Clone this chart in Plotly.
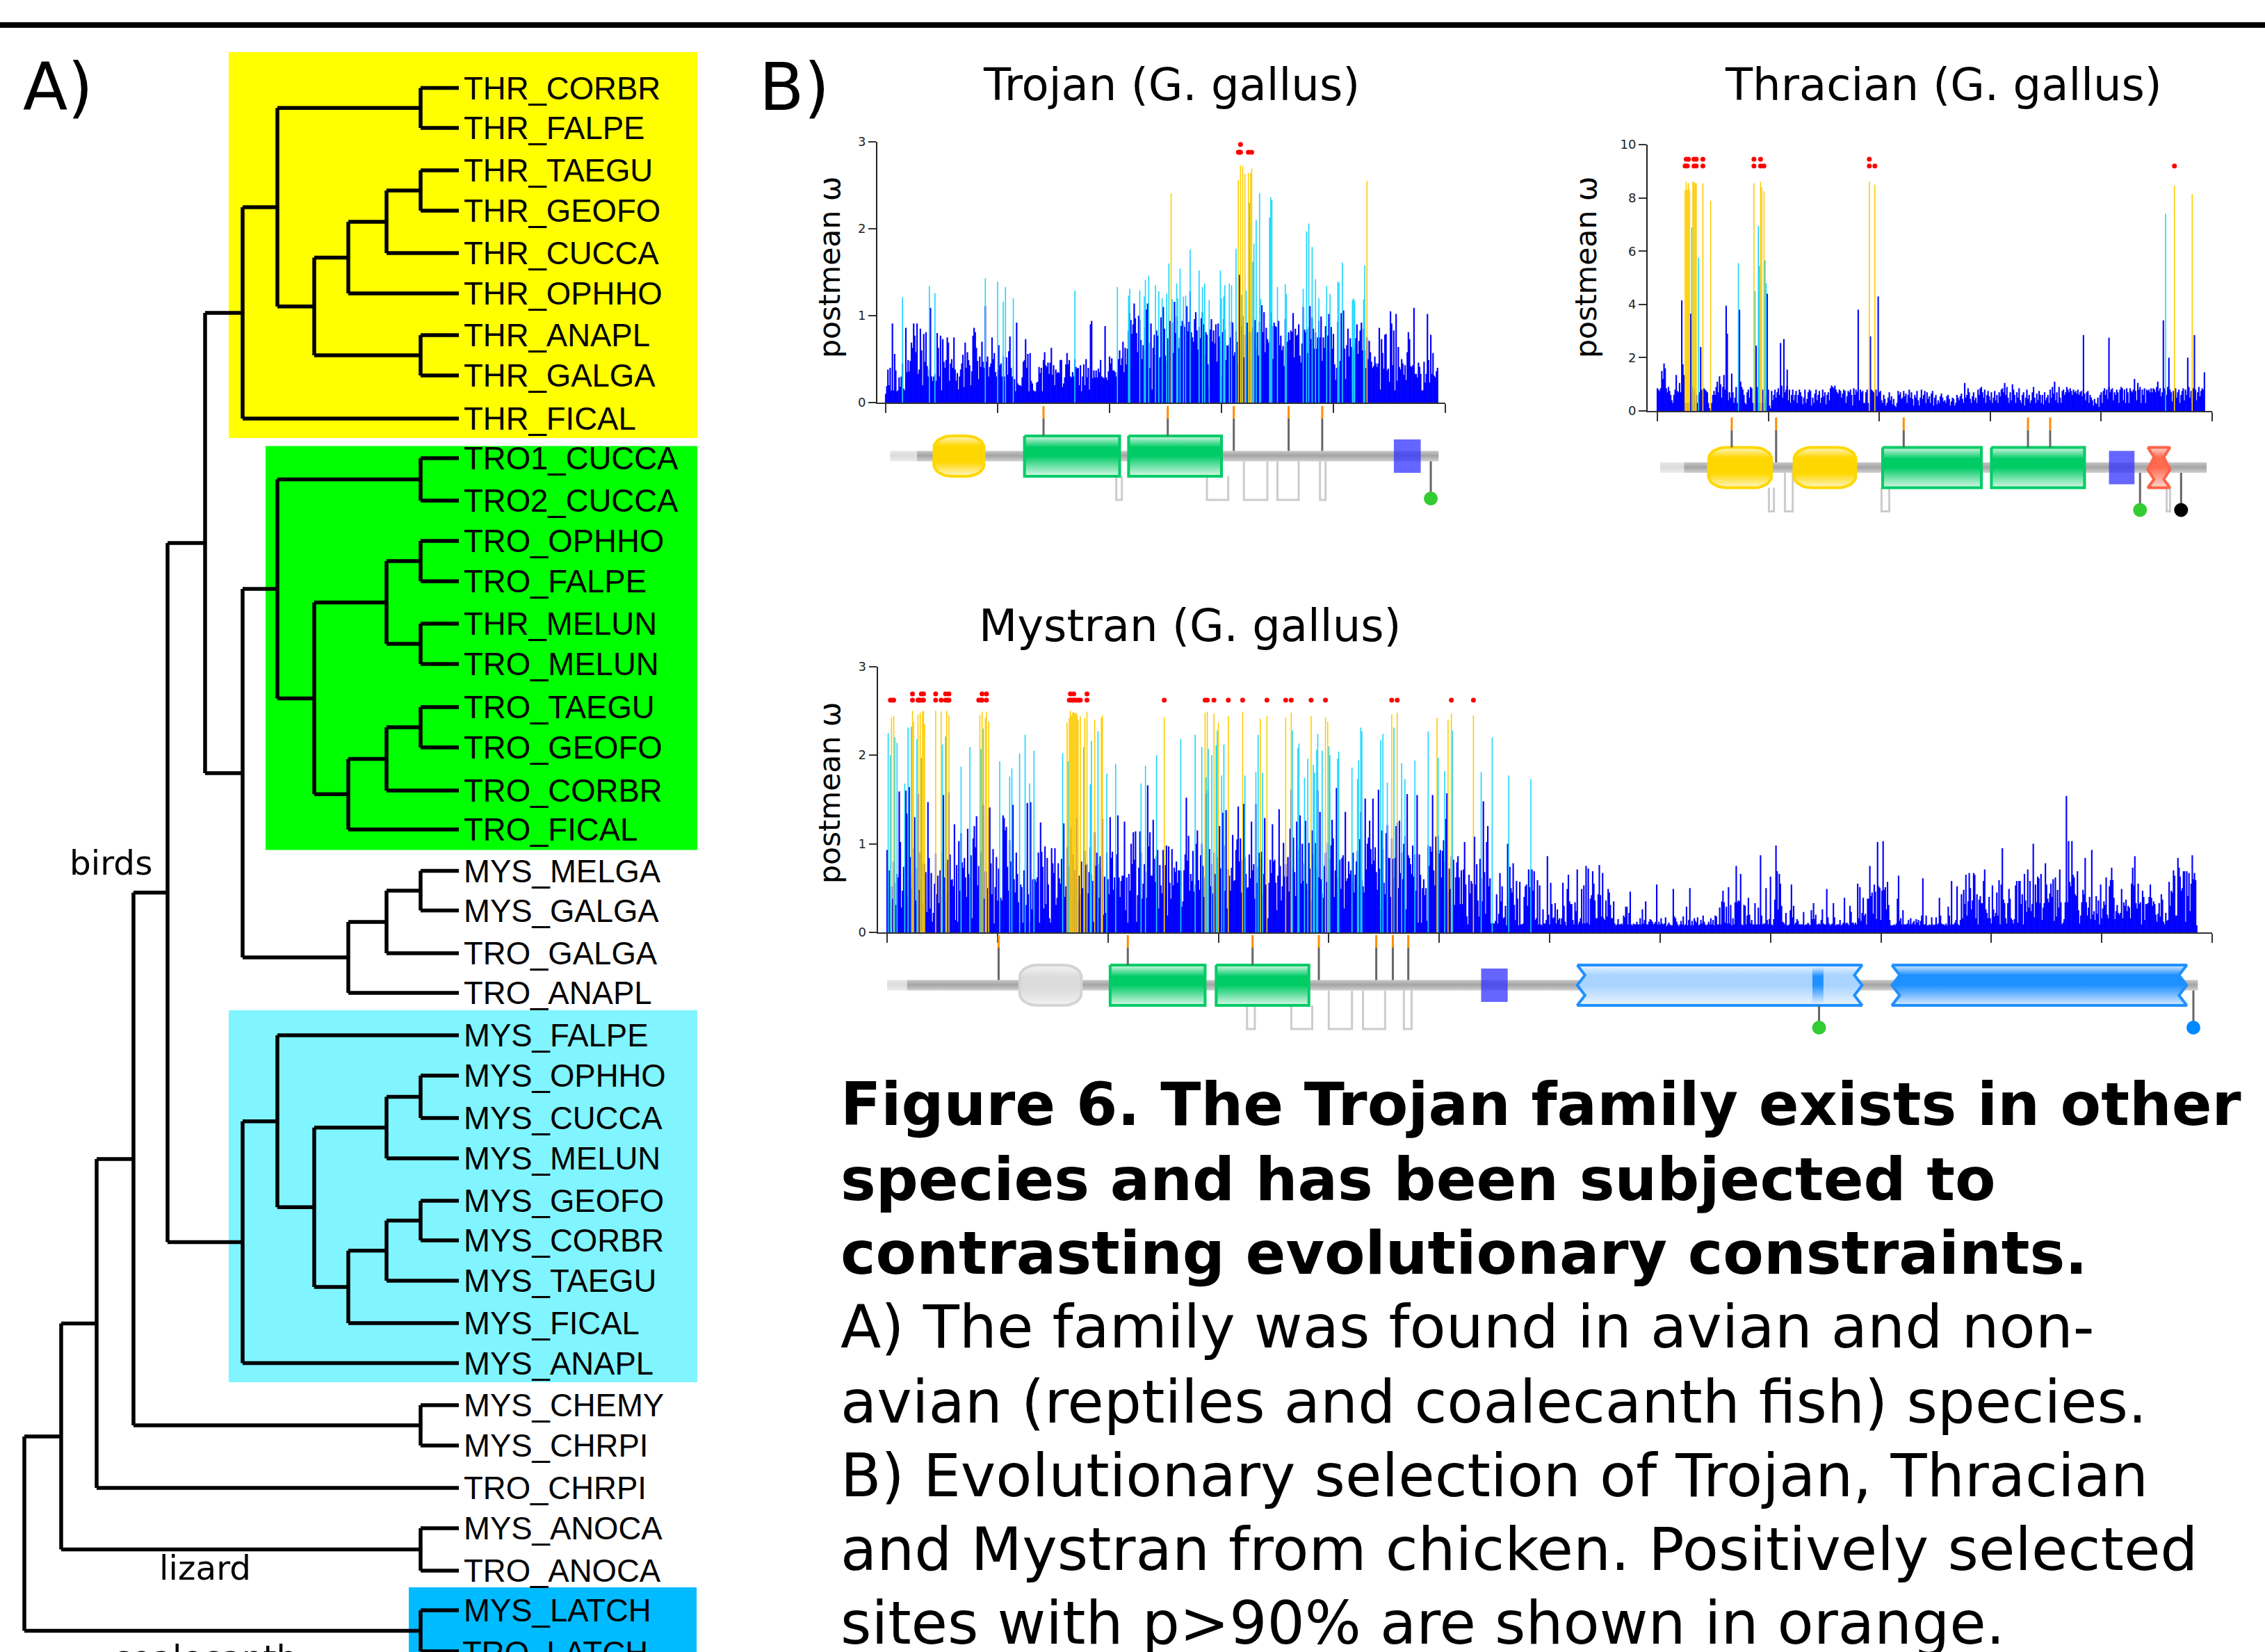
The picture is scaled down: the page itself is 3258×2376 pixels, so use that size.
import numpy as np
import plotly.graph_objects as go

# ---------- tree data ----------
LEAF_NAMES = ["THR_CORBR","THR_FALPE","THR_TAEGU","THR_GEOFO","THR_CUCCA","THR_OPHHO","THR_ANAPL","THR_GALGA","THR_FICAL",
 "TRO1_CUCCA","TRO2_CUCCA","TRO_OPHHO","TRO_FALPE","THR_MELUN","TRO_MELUN","TRO_TAEGU","TRO_GEOFO","TRO_CORBR","TRO_FICAL",
 "MYS_MELGA","MYS_GALGA","TRO_GALGA","TRO_ANAPL","MYS_FALPE","MYS_OPHHO","MYS_CUCCA","MYS_MELUN","MYS_GEOFO","MYS_CORBR",
 "MYS_TAEGU","MYS_FICAL","MYS_ANAPL","MYS_CHEMY","MYS_CHRPI","TRO_CHRPI","MYS_ANOCA","TRO_ANOCA","MYS_LATCH","TRO_LATCH"]
LEAF_Y = [126.5,184,245,303,364,422,482,540,602,659,720,778,836,897,955,1017,1075,1137,1193,1252.5,1309.5,1371,1428,1489,1547,
 1608,1666,1727,1784,1842,1903,1960.5,2021,2079,2140,2198,2259,2316,2375]
DEPTH_X = [35,88,139,192,241,295,349,399,452,501,556,605,660]
L = None
yellow = (6,[(7,[(11,[L,L]),(8,[(9,[(10,[(11,[L,L]),L]),L]),(11,[L,L])])]),L])
green = (7,[(11,[L,L]),(8,[(10,[(11,[L,L]),(11,[L,L])]),(9,[(10,[(11,[L,L]),L]),L])])])
mys_w = (9,[(10,[(11,[L,L]),L]),L])
cyan = (6,[(7,[L,(8,[(10,[(11,[L,L]),L]),(9,[(10,[(11,[L,L]),L]),L])])]),L])
TREE = (0,[(1,[(2,[(3,[(4,[(5,[yellow,(6,[green,mys_w])]),cyan]),(11,[L,L])]),L]),(11,[L,L])]),(11,[L,L])])

# ---------- Trojan ----------
TROJAN = [.1,.19,.38,.2,.4,.14,.91,.14,.56,.37,.13,.14,.29,.18,.3,.45,.16,.14,.86,.35,.49,.36,.48,.69,.63,.91,.77,.58,.91,.33,.38,.85,.6,.2,.79,.47,.81,.42,.3,.38,1.09,.3,.25,.3,.33,.25,.8,.63,.3,.77,.14,.73,.47,.4,.49,.75,.69,.25,.45,.5,.4,.75,.38,.25,.34,.15,.3,.38,.45,.55,.18,.69,.4,.58,.49,.43,.2,.36,.77,.86,.81,.63,.48,.27,.53,.41,.7,.47,.4,1.11,.47,.53,.3,.41,.45,.75,.5,.57,.35,.3,.37,.66,.43,.45,.3,.53,.3,.23,.52,.32,.59,.76,.4,.3,.2,.27,.13,.92,.22,.2,.2,.19,.29,.47,.49,.73,.4,.56,.13,.57,.25,.22,.14,.13,.13,.23,.24,.41,.34,.4,.13,.49,.58,.43,.41,.46,.33,.46,.63,.32,.43,.2,.38,.34,.35,.34,.49,.49,.18,.22,.29,.44,.57,.44,.49,.3,.29,.35,.3,.5,.41,.39,.4,.2,.43,.13,.3,.44,.2,.5,.29,.4,.15,.9,.94,.28,.37,.29,.37,.29,.39,.35,.49,.3,.29,.28,.88,.29,.26,.36,.53,.45,.51,.37,.37,.35,.3,.35,.5,.6,.43,.51,.7,.35,.63,.44,.62,.83,1.03,.95,.79,.9,1.14,.97,.8,.58,1.0,.95,.72,.5,.66,.6,.86,1.07,1.14,.69,.4,.91,.15,.63,.78,.55,.83,.77,.51,.52,.98,.66,1.1,.85,.54,.48,.74,.66,.94,.45,
 .92,.57,1.16,.8,.99,.74,.63,.75,.88,.94,.9,.87,.52,1.11,.82,.93,1.28,.81,.75,.7,.96,1.04,.83,.61,.87,.74,.97,1.04,.9,.56,.81,.78,.44,.18,.84,.96,.7,.83,.68,.9,.47,.91,.76,.6,.31,.81,.96,.84,.49,.66,.65,.67,.75,.93,.92,.54,.58,.82,.7,.45,1.47,.64,.88,1.0,.52,.78,.69,.92,.58,.81,.81,.47,.87,.81,.95,.62,.81,.54,.93,.7,1.12,.81,1.04,.58,.86,.73,.69,.71,1.04,.88,.5,.92,.88,.87,.83,.94,.66,.77,.6,.65,.42,.96,.69,.7,.81,.72,.83,.81,1.03,.52,.85,.77,.78,.9,.54,.46,.68,1.1,.84,.81,.84,.57,.87,1.11,.73,.98,.85,.62,.81,.62,.75,.94,.75,.99,.48,.75,.63,.88,.59,.77,1.02,.59,.87,.62,.79,.44,.26,.4,.93,.41,.48,1.03,.63,1.06,.62,.27,.66,.85,.53,.74,.64,.17,.61,.68,.74,.9,.56,.71,.83,.92,.6,.85,.6,.4,.75,.5,
 .71,.58,.47,.4,.42,.53,.45,.41,.45,.86,.15,.73,.57,.39,.78,.79,.37,.39,.24,1.05,.91,.43,.83,.14,1.02,.25,.64,.41,.38,.5,.45,.32,.43,.26,.58,.81,.73,.42,.41,.43,1.09,.33,.33,.29,.46,.41,.33,.14,.14,.47,.23,.33,1.02,.49,.23,.78,.33,.57,.31,.29,.36,.4]
TROJAN_CY_S = [15,39,44,89,100,105,107,114,169,207,217,218,227,231,232,235,241,244,247,251,253,256,260,261,263,266,268,272,280,283,285,289,299,300,302,303,307,309,313,318,322,325,328,329,331,334,335,343,344,345,350,357,358,373,376,378,381,384,387,394,397,404,405,408,417,418,419,427,428]
TROJAN_CY_V = [1.21,1.34,1.26,1.43,1.39,1.16,1.33,1.2,1.29,1.33,1.23,1.31,1.29,1.22,1.41,1.46,1.35,1.28,1.2,1.25,1.6,1.19,1.37,1.2,1.54,1.22,1.23,1.76,1.52,1.33,1.37,1.18,1.52,1.2,1.22,1.35,1.37,1.35,1.77,1.24,1.29,2.3,1.62,1.83,2.1,2.41,1.19,2.13,2.36,2.33,1.33,1.36,1.25,1.31,1.97,2.06,1.79,1.42,1.2,1.34,1.25,1.39,1.38,1.61,1.18,1.2,1.17,1.19,1.58]
TROJAN_OR_S = [255,315,317,319,321,324,326,327,430]
TROJAN_OR_V = [2.41,2.56,2.73,2.72,2.63,2.64,2.64,2.69,2.55]
TROJAN_DOT_S = [315,316,317,324,327,317]
TROJAN_DOT_V = [2.88,2.88,2.88,2.88,2.88,2.97]

# ---------- Thracian ----------
THRACIAN = [.85,.8,.75,.85,1.5,1.2,1.78,1.6,.85,.7,.9,.75,.6,.4,.3,.6,.8,1.35,.75,.7,1.05,.7,.7,.7,1.35,.3,.3,.3,.3,.3,.7,.3,.9,.8,.7,.6,.3,.6,.7,.8,.8,.3,.85,.8,.75,.7,.3,.1,.1,.3,.6,.75,.6,.9,1.1,.7,1.3,1.0,.5,.9,1.35,.8,.9,.7,.4,.7,.5,1.4,.7,.3,.5,.9,.3,.3,.6,1.1,.9,.8,.6,.3,.25,.7,.8,.5,.9,.85,.3,.3,.3,.6,.9,.3,.3,.3,.3,.8,.3,.3,.5,.6,.8,.2,.1,.75,.4,.6,.8,.5,.7,.85,.6,.7,.95,.5,.9,.7,.8,.95,.4,.8,.3,.6,.8,.4,.6,.75,.3,.6,.8,.7,.55,.25,.5,.8,.3,.45,.7,.8,.75,.2,.5,.3,.65,.8,.4,.6,.75,.3,.5,.8,.55,.7,.25,.6,.7,.4,.85,.95,.9,.85,.95,.8,.7,.65,.8,.75,.5,.65,.8,.75,.3,.55,.75,.7,.8,.6,.2,.85,.6,.8,.7,.75,.4,.8,.7,.75,.3,.3,.7,.8,.3,.3,.3,.8,.75,.7,.6,.8,.55,.4,.7,.75,.4,.3,.6,.45,.2,.3,.5,.7,.4,.55,.25,.45,.2,.15,.3,.75,.6,.7,.45,.5,.75,.55,.65,.3,.6,.8,.5,.7,.45,.2,.6,.5,.75,.4,.2,.5,.8,.45,.6,.75,.3,.7,.45,.55,.3,.65,.75,.2,.5,.6,.25,.4,.3,.55,.65,.5,.35,.4,.3,.55,.6,.45,.2,.35,.5,.45,.2,.3,.6,.5,.4,.55,.65,.45,.3,1.05,.5,.6,.85,.7,.45,.3,.55,.7,.4,.5,.3,.8,.6,.85,.9,.7,.5,.8,.3,.6,.75,.55,.4,.7,.3,.5,.75,.4,.6,.3,.7,.55,.8,.85,.7,1.05,.6,.9,.5,.3,.7,.4,1.0,.8,.6,.3,.7,.5,.85,.4,.3,.6,.7,.2,.5,.8,.45,.6,.3,.4,.7,.9,.5,.3,.65,.4,.75,.6,.3,.6,.25,.7,.4,.5,.6,.3,.8,.5,.9,.65,1.1,.4,.7,.3,.9,.5,.3,.75,.8,.6,.7,.9,.8,.7,.85,.75,.6,.8,.7,.75,.65,.8,.6,.7,.75,.55,.8,.65,.4,.7,.75,.3,.6,.5,.4,.2,.45,.3,.25,.5,.15,.6,.7,.3,.75,.85,.6,.8,.45,.9,.7,.8,.85,.4,.7,.6,.8,.7,.3,.8,.9,.85,.4,.8,.3,.85,.7,.3,.85,.75,.7,.8,1.2,.75,.4,1.05,.8,.9,.3,.8,.6,.85,.3,.8,.75,.8,.7,.85,.7,.85,.8,.7,.9,1.1,.75,.85,
 .55,.7,.3,.85,.75,.6,.9,.45,.8,.7,.35,.75,.6,.85,.5,.7,.8,.3,.6,.75,.85,.4,.8,.6,.7,.9,.5,.75,.3,.85,.65,.8,.4,.7,.9,.55,.75,.85,.8]
THRACIAN_PK_S = [22,23,30,39,62,63,74,89,99,111,114,117,181,192,199,384,407,456,461,478,484,493]
THRACIAN_PK_V = [4.15,1.75,3.65,2.4,3.95,2.9,3.8,2.45,4.4,2.55,2.7,1.55,3.8,2.8,4.3,2.85,2.75,3.4,2.0,2.0,2.85,1.45]
THRACIAN_CY_S = [31,37,73,88,91,92,97,98,458]
THRACIAN_CY_V = [6.9,5.75,5.55,4.5,6.95,5.45,5.65,4.8,7.4]
THRACIAN_OR_S = [25,26,27,28,29,32,33,34,35,41,48,87,93,94,96,191,196,466,482]
THRACIAN_OR_V = [8.3,8.6,8.3,8.55,8.3,8.6,8.6,8.55,8.55,8.55,7.9,8.55,8.6,8.4,8.25,8.6,8.5,8.45,8.15]
THRACIAN_DOT_S = [25,27,33,35,41,87,93,96,191,196,466,26,28,33,35,41,87,93,191]
THRACIAN_DOT_V = [9.2,9.2,9.2,9.2,9.2,9.2,9.2,9.2,9.2,9.2,9.2,9.45,9.45,9.45,9.45,9.45,9.45,9.45,9.45]

# ---------- Mystran ----------
MYSTRAN = [.93,.45,.7,.31,.52,.38,.8,.56,.31,.66,.62,1.59,1.02,.28,.47,.74,.43,1.6,1.34,.41,1.64,.85,.5,.66,.95,1.3,.36,.72,1.56,.48,.9,.57,.34,.78,.77,.68,.23,1.47,.84,.27,.67,.12,.22,.55,.89,.43,.64,.33,.7,.4,.91,1.55,.62,.35,.44,.82,1.58,.88,.59,.6,.52,1.22,.14,.76,.12,1.03,.47,1.12,.79,.73,.84,.62,.4,1.17,.66,.62,.87,.16,1.06,1.2,.96,1.31,.53,.75,.42,.9,.58,1.44,.38,.69,.68,.5,1.4,1.41,.78,.43,.94,.1,.51,.85,.36,.72,.35,.39,.36,1.32,1.29,1.15,1.19,.74,.47,1.04,.8,.58,1.44,.6,.45,.9,.66,.34,.1,.54,.51,.11,.7,.12,.31,1.46,.43,.12,1.47,.26,.6,.19,.6,.57,.62,.9,.11,1.24,.91,.74,.27,.97,.32,.84,.54,.16,.11,.95,.78,.67,.95,.31,.39,.78,.61,.55,.83,.82,1.23,.4,.52,.96,.45,.74,1.18,.62,.88,.41,.7,.55,1.29,.36,.64,.43,.8,.5,.11,.92,.76,.77,.44,.68,.96,.65,.58,.12,1.13,.75,.9,.77,.39,.86,.72,1.28,.2,.63,.22,.9,.6,.43,1.3,.84,.91,.48,.62,.52,.88,1.32,.62,.4,.58,.64,.64,1.25,.25,.62,.11,.66,.47,1.0,.77,1.13,.82,1.14,.12,.42,.73,1.14,.9,.38,.55,.77,.68,.39,1.66,.97,1.13,.64,.64,1.27,.83,.57,.86,.93,.27,.76,.53,.44,.93,.39,.76,.98,.19,.97,.56,.38,.94,.53,.73,.68,.8,.56,.7,.7,.69,.29,.35,.7,.88,1.52,.81,1.09,.47,.66,.58,.92,.46,.54,1.0,1.15,.59,.48,.87,1.0,.75,.4,.62,1.57,1.61,.85,.94,.52,.77,.44,.9,.66,.39,.85,.58,1.2,.72,.73,1.35,.98,.47,1.38,.27,
 .71,.64,.47,.73,1.1,.58,.59,.93,1.05,1.42,.8,1.06,.45,.82,1.45,.85,.66,.5,.51,.88,.61,1.25,.7,.77,.38,1.45,.56,.74,.9,.84,.91,.42,.66,1.29,.54,.15,.16,.56,.82,.67,1.22,.8,.82,.56,.25,.64,1.39,.75,.36,.52,1.01,.63,.77,.63,.85,.46,1.17,1.61,.72,1.07,.68,.41,1.25,.93,.6,1.32,.55,1.0,.58,.78,1.26,.55,.48,1.01,.72,.36,1.15,.88,.5,1.01,.7,1.6,.62,1.36,.6,.44,.39,.75,.9,.57,1.01,.62,.83,.98,1.27,1.06,.4,.7,1.63,.61,.79,.82,.49,.84,.87,.27,1.36,.58,.61,.8,.66,.7,.57,.9,.45,.65,.8,.92,.52,1.05,1.36,.59,.52,.45,1.51,.71,1.0,1.07,1.26,.94,.77,1.51,.81,.96,.68,.48,1.61,.72,.25,1.15,.94,.56,.43,1.12,1.21,.84,.84,.4,1.06,.83,.62,.84,1.2,1.24,.5,1.26,.67,.9,.6,1.0,1.09,.26,1.56,.87,.84,.77,.66,.98,.63,.88,.47,1.55,.11,.88,.65,.11,.5,.6,.42,.5,.13,.98,.75,.97,.91,1.55,.7,.53,1.08,.92,1.09,.89,.93,.62,.92,1.04,.8,1.28,1.57,.46,.72,.49,.86,.32,.82,.31,.62,.79,.86,.62,.32,.7,.32,.71,1.02,.54,.18,.09,.65,.44,.58,.55,.27,1.08,.54,.77,.36,.18,.83,.61,.35,1.48,.68,.21,1.02,1.2,.52,.61,.1,.11,.1,.1,.13,.43,.1,.21,.67,.35,.52,.16,.17,.3,.08,1.0,.38,.74,.5,.45,.78,.31,.14,.58,.38,.08,.57,.09,.09,.1,.4,.52,.54,.3,.71,.51,.71,.71,.47,.69,.14,.16,.59,.09,.53,.09,.08,.26,.1,.1,.14,.86,.2,.09,.56,.32,.16,.17,.33,.1,.26,.14,.16,.09,.16,.56,.3,.12,.08,.49,
 .65,.35,.32,.32,.14,.09,.34,.24,.71,.09,.12,.16,.49,.1,.53,.1,.75,.11,.72,.09,.38,.42,.69,.55,.36,.16,.16,.43,.76,.42,.18,.67,.16,.14,.36,.18,.49,.45,.31,.16,.16,.35,.1,.08,.09,.15,.09,.09,.1,.09,.19,.17,.29,.29,.09,.22,.46,.09,.08,.1,.09,.09,.12,.09,.09,.16,.09,.26,.1,.14,.35,.09,.09,.12,.15,.14,.12,.09,.1,.12,.54,.09,.12,.09,.16,.1,.09,.1,.17,.07,.09,.11,.09,.08,.08,.49,.18,.16,.12,.09,.07,.09,.13,.09,.18,.08,.09,.29,.08,.14,.5,.08,.13,.08,.16,.13,.11,.17,.08,.09,.14,.1,.19,.12,.09,.08,.09,.12,.09,.16,.09,.14,.08,.19,.18,.09,.09,.28,.09,.35,.47,.34,.11,.29,.1,.51,.1,.31,.08,.16,.09,.34,.75,.34,.36,.35,.66,.09,.08,.31,.3,.09,.19,.39,.2,.1,.14,.09,.09,.33,.09,.09,.28,.09,.87,.19,.09,.1,.1,.5,.14,.09,.15,.63,.09,.08,.15,.37,.98,.69,.26,.66,.55,.3,.12,.11,.09,.22,.08,.08,.09,.25,.54,.17,.3,.09,.11,.15,.13,.09,.09,.09,.09,.23,.08,.09,.09,.11,.09,.08,.25,.15,.33,.15,.2,.09,.09,.1,.09,.14,.26,.1,.09,.09,.49,.17,.1,.08,.09,.1,.33,.17,.08,.09,.09,.09,.14,.08,.09,.11,.39,.1,.11,.1,.08,.3,.23,.11,.11,.09,.11,.09,.55,.16,.51,.13,.22,.39,.19,.21,.09,.38,.38,.75,.41,.45,.21,.54,.46,.15,1.02,.52,.5,.14,.47,1.03,.48,.51,.26,.57,.31,.14,.08,.08,.08,.09,.08,.1,.38,.64,.13,.16,.09,.25,.09,.09,.09,.1,.14,.09,.16,
 .09,.11,.13,.09,.15,.11,.14,.08,.13,.19,.61,.09,.09,.19,.08,.08,.09,.08,.17,.09,.08,.09,.17,.09,.1,.39,.19,.1,.09,.09,.08,.1,.08,.29,.19,.09,.58,.09,.09,.11,.14,.52,.09,.08,.14,.43,.16,.48,.32,.65,.19,.35,.67,.5,.26,.36,.67,.65,.16,.43,.09,.37,.41,.33,.33,.58,.71,.26,.22,.16,.4,.16,.1,.53,.26,.18,.22,.45,.19,.59,.09,.54,.95,.37,.33,.16,.1,.33,.49,.38,.16,.14,.1,.15,.53,.58,.11,.58,.58,.32,.43,.09,.66,.36,.23,.71,.28,.58,.24,.32,1.0,.17,.54,.34,.63,.61,.33,.66,.14,.28,.33,.78,.54,.38,.34,.44,.55,.4,.6,.13,.62,.18,.48,.28,.71,.34,.09,.11,.15,.34,1.54,.34,1.03,.57,.52,1.03,.65,.62,.43,.41,.69,.25,.1,.19,.34,.48,.43,.84,.34,.19,.28,.4,.15,.93,.2,.24,.14,.41,.21,.36,.09,.54,.16,.27,.35,.31,.62,.2,.16,.52,.59,.73,.59,.39,.15,.24,.31,.22,.2,.22,.49,.16,.34,.3,.37,.24,.3,.28,.16,.55,.73,.53,.86,.33,.27,.55,.32,.34,.09,.47,.4,.14,.32,.32,.33,.4,.54,.39,.3,.35,.32,.2,.12,.21,.33,.18,.43,.37,.12,.09,.22,.13,.14,.57,.3,.47,.45,.7,.64,.19,.19,.84,.73,.63,.47,.5,.69,.69,.12,.69,.41,.67,.24,.55,.87,.6,.67,.59,.08]
MYSTRAN_CY_S = [1,3,7,9,16,19,22,27,31,50,53,67,75,85,87,102,111,113,120,125,129,133,159,164,178,184,185,191,199,207,230,234,244,266,279,285,289,291,294,298,299,303,305,
 324,334,336,340,367,372,373,378,381,386,387,389,390,394,400,401,408,409,421,426,427,429,430,447,449,453,459,466,469,478,490,499,505,512,538,548,563,583]
MYSTRAN_CY_V = [2.25,2.0,2.2,2.14,1.68,2.31,2.32,2.18,1.97,2.12,2.21,1.87,2.09,2.07,2.3,1.93,1.76,1.85,2.02,2.23,1.68,2.05,2.02,1.93,2.09,1.67,2.16,2.27,1.79,1.9,1.68,1.88,2.0,2.18,2.23,2.09,1.75,2.07,2.0,2.11,2.28,1.77,2.12,
 1.77,1.81,2.23,1.8,2.28,2.08,2.13,1.74,1.96,1.89,1.8,2.06,2.24,2.05,2.1,2.0,1.96,2.04,1.86,1.73,1.94,2.31,2.27,2.17,2.24,1.69,2.31,1.91,1.73,1.94,2.27,1.97,1.82,2.28,1.81,2.2,1.77,1.73]
MYSTRAN_OR_S = [4,6,23,24,28,30,32,33,34,44,49,54,56,84,86,89,90,92,163,165,166,167,168,169,170,171,172,173,175,179,181,188,194,195,251,288,290,296,300,309,322,338,344,361,366,384,397,399,457,462,498,508,511,531]
MYSTRAN_OR_V = [2.42,2.44,2.5,2.38,2.46,2.48,2.49,2.5,2.35,2.5,2.49,2.5,2.45,2.45,2.49,2.42,2.49,2.38,2.37,2.42,2.5,2.45,2.48,2.49,2.47,2.48,2.46,2.4,2.44,2.42,2.49,2.4,2.42,2.45,2.43,2.48,2.49,2.47,2.37,2.44,2.49,2.41,2.44,2.42,2.48,2.44,2.43,2.38,2.46,2.48,2.42,2.4,2.47,2.45]
MYSTRAN_DOT_S = [3,5,6,23,28,29,30,32,33,44,49,53,55,56,83,85,86,90,165,167,168,170,172,174,175,181,251,288,290,296,309,322,344,361,366,384,397,457,462,511,531, 23,31,33,44,53,56,86,90,166,169,181]
MYSTRAN_DOT_V = [2.62]*41 + [2.69]*11

# ---------- protein diagrams (residue numbers) ----------
TRO_END = (4,28,494); TRO_ROUND = [(43,88,"y")]; TRO_GREEN = [(124,209),(217,300)]; TRO_BLUE = [(454,478)]
TRO_STICKS = [141,252,311,360,390]; TRO_EXONS = [(206,211),(287,306),(320,341),(350,369),(388,393)]; TRO_LOLLI = [(487,"#33cc33")]
THR_END = (2.5,24,495); THR_ROUND = [(46,103,"y"),(123,179,"y")]; THR_GREEN = [(203,292),(301,385)]; THR_BLUE = [(407,430)]
THR_STICKS = [67,107,222,334,354]; THR_EXONS = [(100.5,105),(115,122),(202,209),(459,462)]; THR_LOLLI = [(435,"#33cc33"),(472,"#000000")]
THR_HOUR = (442,462)
MYS_END = (0,18,1187); MYS_ROUND = [(120,176,"g")]; MYS_GREEN = [(202,288),(298,382)]; MYS_BLUE = [(538,562)]
MYS_STICKS = [101,218,331,391,443,458,472]; MYS_EXONS = [(326,333),(366,385),(400,421),(431,451),(468,475)]; MYS_LOLLI = [(844,"#33cc33"),(1183,"#0088ff")]
MYS_TORN_L = (625,883); MYS_TORN_D = (910,1177); MYS_STRIPE = (838,848)

TITLES = ["Trojan (G. gallus)","Thracian (G. gallus)","Mystran (G. gallus)"]
CAPTION_BOLD = ["Figure 6. The Trojan family exists in other","species and has been subjected to","contrasting evolutionary constraints."]
CAPTION = ["A) The family was found in avian and non-","avian (reptiles and coalecanth fish) species.","B) Evolutionary selection of Trojan, Thracian","and Mystran from chicken. Positively selected","sites with p>90% are shown in orange."]

W, H = 3258, 2376
fig = go.Figure()
FONT = "DejaVu Sans"

def xd(a, b): return [a / W, b / W]
def yd(top, bot): return [(H - bot) / H, (H - top) / H]

layout = dict(width=W, height=H, autosize=False, margin=dict(l=0, r=0, t=0, b=0, pad=0, autoexpand=False), plot_bgcolor="rgba(0,0,0,0)", paper_bgcolor="white",
    showlegend=False, barmode="overlay", hovermode=False,
    xaxis=dict(domain=[0, 1], range=[0, W], visible=False, fixedrange=True),
    yaxis=dict(domain=[0, 1], range=[H, 0], visible=False, fixedrange=True))

CHARTS = [
 dict(n=2, track=5, dom=(1262, 2079), x0=1274, pps=1.61, xmax=500, top=204, bot=579, ymax=3, yt=[0,1,2,3], ticks=range(0,501,100), center=656,
      v=TROJAN, ps=[], pv=[], cs=TROJAN_CY_S, cv=TROJAN_CY_V, os=TROJAN_OR_S, ov=TROJAN_OR_V, ds=TROJAN_DOT_S, dv=TROJAN_DOT_V),
 dict(n=3, track=6, dom=(2370, 3182), x0=2384, pps=1.596, xmax=500, top=208, bot=591, ymax=10, yt=[0,2,4,6,8,10], ticks=range(0,501,100), center=672.5,
      v=THRACIAN, ps=THRACIAN_PK_S, pv=THRACIAN_PK_V, cs=THRACIAN_CY_S, cv=THRACIAN_CY_V, os=THRACIAN_OR_S, ov=THRACIAN_OR_V, ds=THRACIAN_DOT_S, dv=THRACIAN_DOT_V),
 dict(n=4, track=7, dom=(1262.5, 3182), x0=1276, pps=1.588, xmax=1200, top=958.6, bot=1341, ymax=3, yt=[0,1,2,3], ticks=range(0,1201,100), center=1417,
      v=MYSTRAN, ps=[], pv=[], cs=MYSTRAN_CY_S, cv=MYSTRAN_CY_V, os=MYSTRAN_OR_S, ov=MYSTRAN_OR_V, ds=MYSTRAN_DOT_S, dv=MYSTRAN_DOT_V),
]
BLUE, CYAN, ORANGE = "rgba(0,0,255,.999)", "rgba(25,213,255,.999)", "rgba(255,204,0,.999)"
for c in CHARTS:
    n = c["n"]
    layout[f"xaxis{n}"] = dict(domain=xd(*c["dom"]), range=[-(c["x0"] - c["dom"][0]) / c["pps"], c["xmax"]], anchor=f"y{n}",
        showline=True, linecolor="#333", linewidth=2, ticks="outside", ticklen=13, tickwidth=2, tickcolor="#333",
        tickvals=list(c["ticks"]), showticklabels=False, showgrid=False, zeroline=False, fixedrange=True)
    layout[f"yaxis{n}"] = dict(domain=yd(c["top"], c["bot"]), range=[0, c["ymax"]], anchor=f"x{n}",
        showline=True, linecolor="#222", linewidth=2, ticks="outside", ticklen=11, tickwidth=2, tickcolor="#333",
        tickvals=c["yt"], tickfont=dict(family=FONT, size=18, color="#222"), showgrid=False, zeroline=False, fixedrange=True)
    layout[f"yaxis{c['track']}"] = dict(domain=yd(c["center"] - 78, c["center"] + 78), range=[78, -78], anchor=f"x{n}", visible=False, fixedrange=True)
    ax = dict(xaxis=f"x{n}", yaxis=f"y{n}")
    fig.add_bar(x=list(range(len(c["v"]))), y=c["v"], width=1.35, marker=dict(color=BLUE, line_width=0), **ax)
    if c["ps"]:
        fig.add_bar(x=c["ps"], y=c["pv"], width=1.3, marker=dict(color=BLUE, line_width=0), **ax)
    fig.add_bar(x=c["cs"], y=c["cv"], width=1, marker=dict(color=CYAN, line_width=0), **ax)
    fig.add_bar(x=c["os"], y=c["ov"], width=1, marker=dict(color=ORANGE, line_width=0), **ax)
    fig.add_scatter(x=c["ds"], y=c["dv"], mode="markers", marker=dict(color="#ff0000", size=7, line_width=0), cliponaxis=False, **ax)

GRADS = {
 "green": ["#00cc66", [[0,"#d8f7e6"],[.5,"#00cc66"],[.72,"#00cc66"],[1,"#d8f7e6"]]],
 "y": ["#ffd700", [[0,"#fff6c8"],[.35,"#ffd700"],[.75,"#ffd700"],[1,"#fff6c8"]]],
 "g": ["#d4d4d4", [[0,"#f2f2f2"],[.4,"#dcdcdc"],[.7,"#dcdcdc"],[1,"#f2f2f2"]]],
 "lb": ["#2090ff", [[0,"#eaf4ff"],[.5,"#a8d4ff"],[.75,"#a8d4ff"],[1,"#eaf4ff"]]],
 "db": ["#2090ff", [[0,"#d8eaff"],[.5,"#1e90ff"],[.75,"#1e90ff"],[1,"#d8eaff"]]],
 "r": ["#ff6347", [[0,"#ffd8d0"],[.5,"#ff6a50"],[.75,"#ff6a50"],[1,"#ffd8d0"]]],
 "bb": ["rgba(0,0,0,0)", [[0,"#d0d0d0"],[.55,"#a4a4a4"],[1,"#c8c8c8"]]],
 "bl": ["rgba(0,0,0,0)", [[0,"#ececec"],[.55,"#dcdcdc"],[1,"#e8e8e8"]]],
}
def poly(xs, ys, key, ax, w=4):
    col, cs = GRADS[key]
    fig.add_scatter(x=xs, y=ys, mode="lines", fill="toself", line=dict(color=col, width=w),
                    fillgradient=dict(type="vertical", colorscale=cs), **ax)
def rect(a, b, h): return [a, b, b, a, a], [-h, -h, h, h, -h]
def rounded(a, b, h, rx, ry=17):
    t = np.linspace(0, np.pi / 2, 10)
    xs = list(b - rx + rx * np.sin(t)) + list(b - rx + rx * np.cos(t)) + list(a + rx - rx * np.sin(t)) + list(a + rx - rx * np.cos(t))
    ys = list(-h + ry - ry * np.cos(t)) + list(h - ry + ry * np.sin(t)) + list(h - ry + ry * np.cos(t)) + list(-h + ry - ry * np.sin(t))
    return xs + xs[:1], ys + ys[:1]
def torn(a, b, h, d):
    xs = [a, b, b - d, b, b - d, b, a, a + d, a, a + d, a]
    ys = [-h, -h, -h / 2, 0, h / 2, h, h, h / 2, 0, -h / 2, -h]
    return xs, ys

DIAGRAMS = [
 dict(c=CHARTS[0], end=TRO_END, rnd=TRO_ROUND, grn=TRO_GREEN, blu=TRO_BLUE, st=TRO_STICKS, ex=TRO_EXONS, lo=TRO_LOLLI),
 dict(c=CHARTS[1], end=THR_END, rnd=THR_ROUND, grn=THR_GREEN, blu=THR_BLUE, st=THR_STICKS, ex=THR_EXONS, lo=THR_LOLLI, hour=THR_HOUR),
 dict(c=CHARTS[2], end=MYS_END, rnd=MYS_ROUND, grn=MYS_GREEN, blu=MYS_BLUE, st=MYS_STICKS, ex=MYS_EXONS, lo=MYS_LOLLI, tl=MYS_TORN_L, td=MYS_TORN_D, stripe=MYS_STRIPE),
]
BOX, BACK = 29, 7.5
for d in DIAGRAMS:
    c = d["c"]
    ax = dict(xaxis=f"x{c['n']}", yaxis=f"y{c['track']}")
    e0, e1, e2 = d["end"]
    poly(*rect(e0, e1, BACK), "bl", ax, 0)
    poly(*rect(e1, e2, BACK), "bb", ax, 0)
    boxes = [(a, b) for a, b, _ in d["rnd"]] + list(d["grn"]) + ([d["tl"], d["td"]] if "tl" in d else []) + ([d["hour"]] if "hour" in d else [])
    inbox = lambda a, b: any(a < q and b > p for p, q in boxes)
    for a, b in d["ex"]:
        top = BOX if inbox(a, b) else BACK
        fig.add_scatter(x=[a, a, b, b], y=[top, 63, 63, top], mode="lines", line=dict(color="#cccccc", width=3), **ax)
    for a, b, k in d["rnd"]:
        poly(*rounded(a, b, BOX, 16), k, ax)
    for a, b in d["grn"]:
        poly(*rect(a, b, BOX), "green", ax)
    if "tl" in d:
        poly(*torn(*d["tl"], BOX, 7), "lb", ax)
        poly(*torn(*d["td"], BOX, 7), "db", ax)
        poly(*rect(*d["stripe"], BOX - 3), "db", ax, 0)
    if "hour" in d:
        a, b = d["hour"]; m = (b - a) * .28
        xs = [a, b, b - m, b, b - m, b, a, a + m, a, a + m, a]
        poly(xs, [-BOX, -BOX, -15, 3, 17, BOX, BOX, 17, 3, -15, -BOX], "r", ax)
    for a, b in d["blu"]:
        fig.add_scatter(x=rect(a, b, 24)[0], y=rect(a, b, 24)[1], mode="lines", fill="toself", fillcolor="rgba(50,50,255,.75)", line=dict(width=0), **ax)
    gx, gy, ox, oy = [], [], [], []
    for s in d["st"]:
        gx += [s, s, None]; gy += [-54, -BOX if inbox(s, s) else -BACK, None]
        ox += [s, s, None]; oy += [-72, -54, None]
    fig.add_scatter(x=gx, y=gy, mode="lines", line=dict(color="#666666", width=3), **ax)
    fig.add_scatter(x=ox, y=oy, mode="lines", line=dict(color="#ff8c00", width=3), **ax)
    for s, col in d["lo"]:
        fig.add_scatter(x=[s, s], y=[BACK if not inbox(s, s) else BOX, 61], mode="lines", line=dict(color="#666666", width=3), **ax)
        fig.add_scatter(x=[s], y=[61], mode="markers", marker=dict(color=col, size=20, line_width=0), cliponaxis=False, **ax)

# ---------- tree ----------
tx, ty, counter = [], [], [0]
def walk(node, parent_x):
    if node is None:
        y = LEAF_Y[counter[0]]; counter[0] += 1
        tx.extend([parent_x, DEPTH_X[12], None]); ty.extend([y, y, None])
        return y
    d, kids = node
    x = DEPTH_X[d]
    ys = [walk(k, x) for k in kids]
    y = (ys[0] + ys[-1]) / 2
    tx.extend([x, x, None]); ty.extend([ys[0], ys[-1], None])
    if parent_x is not None:
        tx.extend([parent_x, x, None]); ty.extend([y, y, None])
    return y
walk(TREE, None)
fig.add_scatter(x=tx, y=ty, mode="lines", line=dict(color="black", width=5.5), xaxis="x", yaxis="y")
fig.add_scatter(x=[667] * (len(LEAF_NAMES) - 1), y=[v + 5 for v in LEAF_Y[:-1]], mode="text", text=LEAF_NAMES[:-1], textposition="middle right", cliponaxis=False,
                textfont=dict(family="Liberation Sans", size=45.5, color="black"), xaxis="x", yaxis="y")

def bg(x0, x1, y0, y1, col):
    return dict(type="rect", xref="x", yref="y", x0=x0, x1=x1, y0=y0, y1=y1, fillcolor=col, line_width=0, layer="below")
layout["shapes"] = [bg(0, W, 32, 40, "black"), bg(329, 1003, 75, 630, "#ffff00"), bg(382, 1003, 641.6, 1222.5, "#00ff00"),
                    bg(329, 1003, 1453, 1988, "#80f4ff"), bg(588, 1002, 2283, H, "#00bbff")]

def note(x, y, text, size, anchor="center", angle=0, shift=0, family=FONT):
    return dict(x=x, y=y, xref="x", yref="y", text=text, showarrow=False, xanchor=anchor, yanchor="middle", textangle=angle, yshift=shift,
                font=dict(family=family, size=size, color="black"), borderpad=0, borderwidth=0)
ann = [note(33, 125, "A)", 94, "left"), note(1092, 125, "B)", 94, "left"),
       note(1685, 122, TITLES[0], 64), note(2795, 122, TITLES[1], 64), note(1712, 900, TITLES[2], 64),
       note(1193, 385, "postmean ω", 42.5, angle=-90), note(2281, 385, "postmean ω", 42.5, angle=-90), note(1193, 1141, "postmean ω", 42.5, angle=-90),
       note(159, 1241, "birds", 48.5), note(295, 2255, "lizard", 48.5), note(295, 2370, "coalecanth", 48.5, shift=-14),
       note(665, 2370, LEAF_NAMES[-1], 45.5, "left", shift=-7, family="Liberation Sans")]
cap_y = [1588, 1696, 1802, 1908, 2016, 2122, 2228, 2334]
for y, t in zip(cap_y, ["<b>%s</b>" % s for s in CAPTION_BOLD] + CAPTION):
    ann.append(note(1209, y, t, 85.3, "left"))
layout["annotations"] = ann
fig.update_layout(**layout)
fig.write_html("out.html", config=dict(displayModeBar=False), post_script="document.body.style.margin='0';document.documentElement.style.margin='0';")
